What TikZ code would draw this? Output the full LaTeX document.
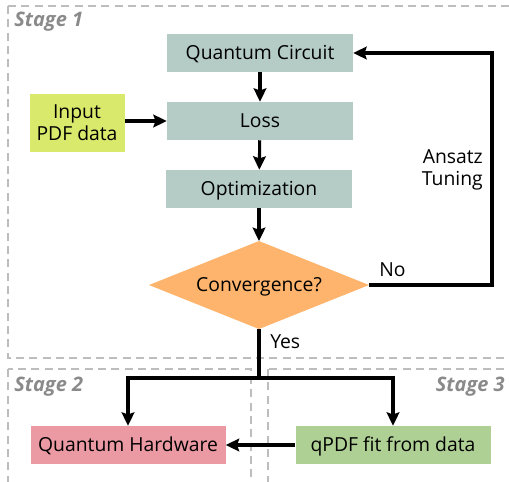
\documentclass[tikz,border=0pt]{standalone}
\usepackage{fontspec}
\setmainfont{Open Sans}
\usetikzlibrary{arrows.meta}
\definecolor{tealbox}{HTML}{B4CBC6}
\definecolor{inputbox}{HTML}{D9E96B}
\definecolor{diamondc}{HTML}{FEB46C}
\definecolor{hwbox}{HTML}{EB9AA3}
\definecolor{fitbox}{HTML}{AFD095}
\definecolor{stagegray}{HTML}{BDBDBD}
\definecolor{stagetext}{HTML}{8A8A8A}
\tikzset{
  box/.style={rectangle, inner sep=0pt, font=\fontsize{14.5}{17}\selectfont},
  onel/.style={text height=0.95em, text depth=0pt},
  flowbox/.style={box, onel, fill=tealbox, minimum width=139.5pt, minimum height=28.5pt},
  outbox/.style={box, onel, minimum width=146.25pt, minimum height=28.5pt},
  stagebox/.style={draw=stagegray, line width=1.8pt, dash pattern=on 6pt off 4pt},
  stagelabel/.style={font=\fontsize{15}{17}\selectfont\bfseries\itshape, text=stagetext, inner sep=0pt},
  lbl/.style={font=\fontsize{14.5}{17}\selectfont, inner sep=0pt},
  arr/.style={line width=2.3pt, -{Stealth[length=10pt, width=9.5pt, inset=1.5pt]}},
  ln/.style={line width=2.3pt},
}
\begin{document}
\begin{tikzpicture}[x=0.75pt, y=-0.75pt]
\useasboundingbox (0,0) rectangle (509,481);
\begin{scope}
\clip (0,0) rectangle (509,481);
\draw[stagebox] (8,6) rectangle (520,358);
\draw[stagebox] (8,369) rectangle (251,495);
\draw[stagebox] (268,369) rectangle (520,495);
\end{scope}
\node[stagelabel, anchor=west] (s1) at (14,22) {Stage 1};
\node[stagelabel, anchor=west] (s2) at (14,387) {Stage 2};
\node[stagelabel, anchor=east] (s3) at (505,387) {Stage 3};

\node[flowbox] (qc) at (260,53) {Quantum Circuit};
\node[flowbox] (loss) at (260,121) {Loss};
\node[flowbox] (opt) at (259,189) {Optimization};
\node[box, align=center, fill=inputbox, minimum width=71.25pt, minimum height=43.5pt, font=\fontsize{14.5}{16.5}\selectfont] (inp) at (77,123) {Input\\PDF data};

\coordinate (cv-l) at (149,285);
\coordinate (cv-r) at (369,285);
\coordinate (cv-t) at (259,241);
\coordinate (cv-b) at (259,329);
\fill[diamondc] (cv-l) -- (cv-t) -- (cv-r) -- (cv-b) -- cycle;
\node[box, onel] (conv) at (259,285) {Convergence?};

\node[outbox, fill=hwbox] (hw) at (128,445) {Quantum Hardware};
\node[outbox, fill=fitbox] (fit) at (393,445) {qPDF fit from data};

\draw[arr] (qc) -- (loss);
\draw[arr] (loss) -- (opt);
\draw[arr] (opt) -- (cv-t);
\draw[arr] (inp.east |- loss) -- (loss);

\coordinate (nocorner) at (492,285);
\draw[arr] (cv-r) -- (nocorner) |- (qc.east);
\node[lbl, anchor=south west] (no) at (379,277) {No};
\node[lbl, align=right, anchor=east] (ans) at (483,170) {Ansatz\\Tuning};

\coordinate (jn) at (259,378);
\draw[ln] (cv-b) -- (jn);
\draw[arr] (jn) -| (hw.north);
\draw[arr] (jn) -| (fit.north);
\node[lbl, anchor=west] (yes) at (270,342) {Yes};
\draw[arr] (fit) -- (hw);
\end{tikzpicture}
\end{document}
